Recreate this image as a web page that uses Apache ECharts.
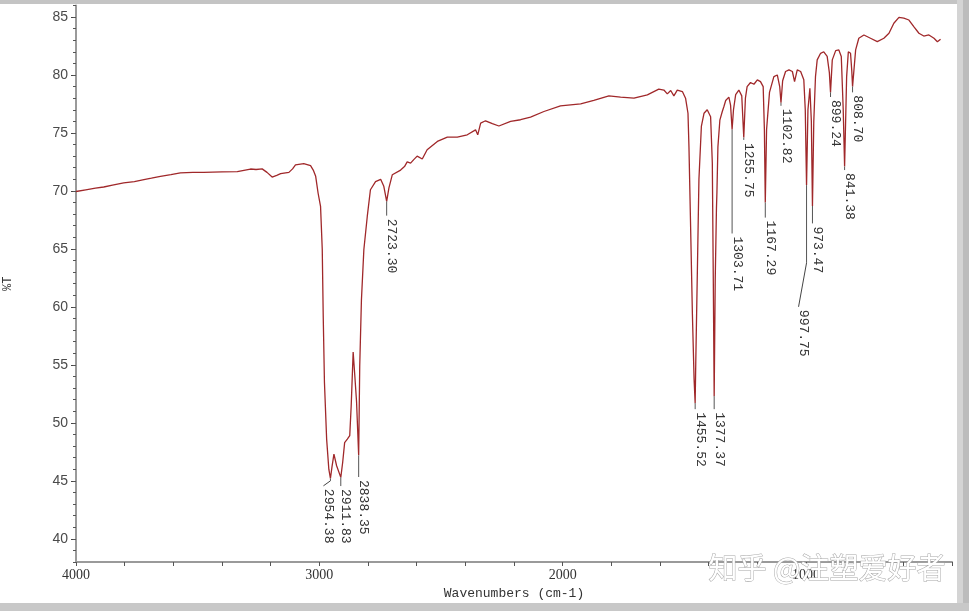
<!DOCTYPE html>
<html>
<head>
<meta charset="utf-8">
<script src="https://cdn.jsdelivr.net/npm/echarts@6/dist/echarts.min.js"></script>
<style>html,body{margin:0;padding:0;background:#fff;}#c{width:969px;height:611px;}</style>
</head>
<body>
<div id="c"></div>
<script>
// ---- data ----
var wavenumber = [4000,3960,3920,3886,3850,3804,3760,3721,3690,3653,3610,3571,3520,3475,3400,3337,3283,3260,3235,3215,3194,3175,3159,3125,3110,3098,3064,3036,3025,3015,3005,2995,2988,2984,2979,2970,2961,2954.38,2948,2940,2929,2911.83,2904,2896,2885,2875,2869,2861,2854,2847,2838.35,2834,2827,2817,2803,2790,2769,2748,2735,2723.3,2714,2700,2666,2650,2639,2625,2612,2598,2577,2557,2515,2474,2433,2392,2358,2349,2337,2317,2289,2262,2214,2173,2132,2077,2009,1926,1872,1810,1762,1707,1652,1605,1584,1570,1556,1543,1529,1508,1495,1485,1481,1474,1467,1460,1455.52,1453,1447,1440,1430,1419,1406,1392,1385,1381,1377.37,1373,1368,1366,1364,1362,1354,1344,1337,1330,1317,1310,1303.71,1298,1289,1276,1264,1255.75,1249,1242,1228,1214,1200,1187,1176,1171,1167.29,1162,1150,1132,1118,1108,1102.82,1096,1084,1070,1056,1047,1036,1022,1009,1003,997.75,992,984,978,973.47,968,961,954,940,927,913,904,899.24,892,878,865,855,847,841.38,833,826,817,812,808.7,796,783,762,735,707,680,659,639,618,598,577,557,536,516,495,474,460,447];
var transmittance = [69.95,70.1,70.25,70.34,70.5,70.69,70.8,70.97,71.1,71.26,71.4,71.55,71.6,71.6,71.64,71.66,71.89,71.85,71.9,71.6,71.2,71.35,71.49,71.6,71.9,72.24,72.35,72.18,71.8,71.26,69.8,68.67,64.95,59.2,53.5,48.6,46.0,45.2,46.2,47.3,46.3,45.3,46.6,48.3,48.6,48.9,51.5,56.1,54.0,51.8,47.2,54.9,60.6,64.95,67.8,70.1,70.8,71.0,70.4,69.1,70.26,71.4,71.8,72.1,72.5,72.4,72.7,73.0,72.75,73.55,74.27,74.64,74.64,74.84,75.27,74.84,75.85,76.05,75.8,75.6,76.0,76.14,76.37,76.85,77.34,77.51,77.8,78.2,78.09,78.0,78.29,78.78,78.7,78.37,78.66,78.2,78.7,78.57,78.0,76.7,73.8,66.7,59.5,53.8,51.7,55.2,62.4,71.0,75.56,76.7,77.0,76.4,72.4,62.4,52.3,62.4,68.5,69.9,70.0,73.8,76.1,76.85,77.3,77.8,78.09,77.4,75.3,77.0,78.3,78.7,78.2,74.6,78.0,79.0,79.35,79.2,79.58,79.43,79.0,75.3,69.0,75.3,78.5,79.86,80.0,79.0,77.6,79.5,80.3,80.44,80.3,79.43,80.44,80.3,79.58,77.0,70.5,77.0,78.86,76.0,68.7,76.0,79.86,81.3,81.87,82.0,81.6,80.2,78.5,81.3,82.1,82.16,81.6,77.0,72.1,79.86,82.0,81.87,80.4,79.0,82.16,83.17,83.45,83.17,82.87,83.17,83.6,84.46,84.97,84.9,84.74,84.17,83.6,83.36,83.45,83.17,82.87,83.08];

var peakWavenumber = [2954.38,2911.83,2838.35,2723.30,1455.52,1377.37,1303.71,1255.75,1167.29,1102.82,997.75,973.47,899.24,841.38,808.70];
var peakTransmittance = [45.2,45.3,47.2,69.1,51.7,52.3,75.3,74.6,69.0,77.6,70.5,68.7,78.5,72.1,79.0];
var peakLabels = ['2954.38','2911.83','2838.35','2723.30','1455.52','1377.37','1303.71','1255.75','1167.29','1102.82','997.75','973.47','899.24','841.38','808.70'];

var yTickLabels = [40,45,50,55,60,65,70,75,80,85];
var xTickLabels = [4000,3000,2000,1000];

// ---- layout (label leader ends in %T units, plus optional bent part in px) ----
var leaderEnd = [45.0,44.55,45.33,67.87,51.18,51.18,66.33,74.4,67.7,77.34,63.8,67.2,78.1,71.8,78.5];
var leaderBendDx = [-7,0,0,0,0,0,0,0,0,0,-8,0,0,0,0];
var leaderBendDy = [5,0,0,0,0,0,0,0,0,0,44,0,0,0,0];

var spectrum = wavenumber.map(function(w,i){return [w, transmittance[i]];});
var peaks = peakWavenumber.map(function(w,i){return [w, peakTransmittance[i], leaderEnd[i], i];});

var chart = echarts.init(document.getElementById('c'), null, {renderer:'canvas'});
chart.setOption({
  animation: false,
  backgroundColor: '#ffffff',
  grid: {left: 76, right: 17, top: 5.4, bottom: 49, containLabel: false, outerBoundsMode: 'none'},
  xAxis: {
    type: 'value', inverse: true, min: 400, max: 4000, interval: 200,
    name: 'Wavenumbers (cm-1)', nameLocation: 'middle', nameGap: 22,
    nameTextStyle: {fontFamily: 'Liberation Mono', fontSize: 13, color: '#333'},
    axisLine: {show: true, onZero: false, lineStyle: {color: '#9a9a9a', width: 2}},
    axisTick: {show: true, inside: false, length: 4, lineStyle: {color: '#555', width: 1}},
    axisLabel: {
      customValues: xTickLabels, margin: 6,
      formatter: function(v){ return String(v); },
      fontFamily: 'Liberation Serif', fontSize: 14, color: '#333'
    },
    splitLine: {show: false}
  },
  yAxis: [{
    type: 'value', min: 38, max: 86,
    name: '%T', nameLocation: 'middle', nameGap: 62,
    nameTextStyle: {fontFamily: 'Liberation Mono', fontSize: 12, color: '#333'},
    axisLine: {show: true, onZero: false, lineStyle: {color: '#9a9a9a', width: 2}},
    axisTick: {show: true, customValues: yTickLabels, length: 5, lineStyle: {color: '#444', width: 1}},
    axisLabel: {customValues: yTickLabels, margin: 8, fontFamily: 'Liberation Sans', fontSize: 14, color: '#4a4a4a'},
    splitLine: {show: false}
  }, {
    type: 'value', min: 38, max: 86, interval: 1, position: 'left',
    axisLine: {show: false},
    axisTick: {show: true, length: 3, lineStyle: {color: '#555', width: 1}},
    axisLabel: {show: false},
    splitLine: {show: false}
  }],
  series: [{
    type: 'line', data: spectrum, showSymbol: false, symbol: 'none',
    lineStyle: {color: '#a0282a', width: 1.3}, z: 3, silent: true
  }, {
    type: 'custom', data: peaks, z: 4, silent: true,
    renderItem: function(params, api){
      var wn = api.value(0), pv = api.value(1), ev = api.value(2), idx = api.value(3);
      var p = api.coord([wn, pv]);
      var e = api.coord([wn, ev]);
      var children = [{type: 'line', shape: {x1: p[0], y1: p[1], x2: e[0], y2: e[1]}, style: {stroke: '#555', lineWidth: 1}}];
      var ex = e[0], ey = e[1];
      if (leaderBendDx[idx] || leaderBendDy[idx]) {
        children.push({type: 'line', shape: {x1: ex, y1: ey, x2: ex + leaderBendDx[idx], y2: ey + leaderBendDy[idx]}, style: {stroke: '#444', lineWidth: 1}});
        ex = ex + leaderBendDx[idx]; ey = ey + leaderBendDy[idx];
      }
      children.push({
        type: 'text', x: ex + 5, y: ey + 3, rotation: -Math.PI / 2,
        style: {text: peakLabels[idx], fontFamily: 'Liberation Mono', fontSize: 13, fill: '#333', align: 'left', verticalAlign: 'middle'}
      });
      return {type: 'group', children: children};
    }
  }],
  graphic: [
    {type: 'rect', left: 0, top: 0, shape: {width: 969, height: 4}, style: {fill: '#c4c4c4'}, z: 10},
    {type: 'rect', left: 957, top: 0, shape: {width: 12, height: 611}, style: {fill: '#d4d4d4'}, z: 10},
    {type: 'rect', left: 963, top: 0, shape: {width: 6, height: 611}, style: {fill: '#bcbcbc'}, z: 10},
    {type: 'rect', left: 0, top: 603, shape: {width: 969, height: 8}, style: {fill: '#c8c8c8'}, z: 10},
    {type: 'text', left: 708, top: 553, z: 20,
      style: {text: '知乎 @注塑爱好者', fontFamily: 'Noto Sans CJK SC', fontSize: 29, fill: '#ffffff', stroke: '#a8a8a8', lineWidth: 1,
        shadowColor: 'rgba(0,0,0,0.2)', shadowBlur: 1, shadowOffsetX: 1, shadowOffsetY: 1}}
  ]
});
</script>
</body>
</html>
